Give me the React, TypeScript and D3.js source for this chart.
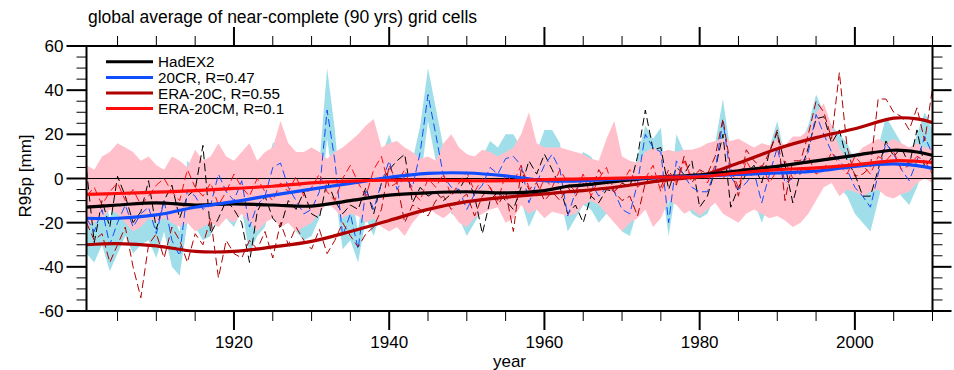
import React from 'react';
import * as d3 from 'd3';

const YEARS: number[] = d3.range(1901, 2011);

// HadEX2 yearly (dashed black)
const hadex2 = [
  4, -29, -10, -22, 1, -8, -20, -15, -1, -23,
  -10, -3, -18, -8, -5, 15, -25, -18, -10, -14,
  -20, -38, -15, -8, -18, -22, -10, -14, -6, -16,
  -18, -1, -10, -16, -12, -14, -4, -16, -2, 4,
  8, 11, -11, -4, -8, -6, -10, -7, -5, 1,
  -8, -25, -10, -6, -10, -14, -4, 8, 2, 11,
  4, -4, -16, -12, -20, -8, -11, -5, -6, -2,
  -4, 10, 31, 13, 14, -5, 5, 2, 8, -13,
  -8, 4, 20, -13, -4, 2, 6, -2, 12, 21,
  6, -11, 3, 14, 27, 28, 16, 22, 8, 2,
  -8, -8, 4, 17, 10, 14, 6, 22, 5, 10,
];

// 20CR yearly (dashed blue)
const cr20 = [
  -18, -24, -14, -30, -20, -12, -22, -16, -13, -25,
  -10, -28, -35, -5, -8, -14, -12, 2, -6, -10,
  -1, -22, -12, -8, 5, 7, -4, -10, -16, -14,
  -6, 31, 8, -26, -16, -32, -5, -14, -2, 8,
  -5, 1, -4, 12, 38, 20, 1, -4, -5, -14,
  -7, -3, 5, 2, 9, 10, 6, -11, -2, 6,
  11, 4, -17, -6, 0, -2, -8, -4, -6, -14,
  -16, -2, 20, 14, 12, -20, 8, 1, -4, -6,
  -6, 4, 26, 1, -5, -2, 3, -11, 2, 14,
  -2, 0, 6, 12, 29, 20, 12, 8, 4, -4,
  -8, -13, 2, 16, 11, 4, -1, 8, 19, 11,
];

// ERA-20C yearly (dashed dark red)
const era20c = [
  -20, -28, -25, -38, -30, -22, -40, -54, -30, -25,
  -36, -22, -28, -38, -25, -30, -18, -45, -28, -34,
  -36, -28, -32, -24, -36, -20, -30, -22, -28, -32,
  -23, -34, -28, -20, -26, -31, -25, -22, -14, 6,
  -2, -20, -12, -14, -17, -10, -8, -14, -10, -7,
  -17, -8, -4, -12, -6, -24, 4, -5, -2, -10,
  -6, -10, -4, -8, -2, -6, 4, -2, -6, -10,
  -8, -17, -2, 2, -4, 4, -3, 10, -2, 4,
  2, 10, 27, 5, -8, 13, 8, 5, 12, 22,
  -10, 8, 8, 20, 35, 30, 18, 48, 14, 1,
  2, 5, 36, 36, 30, 28, 22, 32, 17, 41,
];

// ERA-20CM ensemble mean yearly (dashed red)
const era20cm = [
  -8, -4, -12, -6, -2, -10, -5, -12, -8, -3,
  0, -6, -10, 4, -4, -8, -2, -12, -6, 2,
  -4, -8, 0, -6, -10, -2, -6, 1, -8, -4,
  2, -6, -10, 0, 6, -2, -8, 4, 10, -4,
  -2, 4, -6, -10, 0, -4, 2, -8, -2, 3,
  -6, 0, -4, -10, 2, -2, 6, -4, -8, 0,
  -4, 4, -2, -6, 2, -8, 0, 5, -6, -2,
  4, -4, 0, 6, -6, 2, -2, 8, 0, 4,
  -2, 6, 0, 4, -4, 8, 2, 6, -2, 4,
  8, 0, 6, 10, 2, 4, 12, 6, 2, 10,
  6, 2, 10, 8, 12, 4, 6, 10, 8, 2,
];

// 20CR ensemble spread (light blue band)
const cr20Lo = [
  -34, -38, -30, -42, -34, -26, -34, -30, -28, -36,
  -24, -40, -44, -20, -22, -28, -26, -10, -18, -22,
  -14, -34, -26, -22, -8, -6, -18, -24, -28, -26,
  -18, 18, -6, -32, -28, -38, -18, -26, -14, -4,
  -18, -12, -16, -2, 26, 8, -10, -16, -18, -26,
  -20, -14, -8, -10, -4, -2, -10, -22, -14, -2,
  -2, -8, -24, -18, -12, -14, -20, -16, -18, -24,
  -26, -14, 8, 2, 0, -26, -4, -10, -16, -18,
  -16, -8, 14, -10, -16, -14, -10, -20, -10, 2,
  -14, -18, -6, 0, 18, 8, 0, -4, -8, -16,
  -20, -24, -10, 4, -2, -8, -12, -4, 6, -2,
];
const cr20Hi = [
  -6, -12, -2, -18, -8, 0, -10, -4, -2, -14,
  2, -16, -24, 8, 4, -2, 0, 14, 6, 2,
  12, -10, 0, 4, 16, 18, 8, 2, -4, -2,
  6, 50, 22, -18, -4, -24, 6, -2, 10, 20,
  8, 12, 8, 24, 50, 32, 14, 8, 6, -2,
  4, 10, 17, 14, 20, 20, 14, 0, 12, 22,
  22, 16, -8, 6, 12, 10, 4, 8, 6, -2,
  -4, 10, 24, 18, 23, -12, 20, 12, 8, 6,
  6, 16, 36, 12, 6, 10, 14, 0, 14, 26,
  10, 8, 16, 24, 38, 30, 24, 20, 16, 8,
  4, -2, 14, 28, 22, 16, 10, 20, 30, 22,
];

// ERA-20CM ensemble spread (pink band)
const cmLo = [
  -22, -20, -18, -14, -16, -20, -24, -22, -18, -20,
  -18, -20, -22, -20, -24, -22, -20, -22, -18, -20,
  -16, -20, -24, -20, -18, -22, -20, -24, -22, -20,
  -16, -11, -14, -18, -16, -17, -20, -18, -22, -24,
  -22, -26, -20, -16, -13, -16, -18, -15, -20, -22,
  -18, -16, -14, -13, -20, -18, -12, -16, -14, -18,
  -15, -16, -17, -16, -12, -10, -12, -16, -20, -24,
  -20, -18, -14, -22, -18, -10, -12, -16, -14, -17,
  -14, -11, -16, -18, -20, -16, -14, -16, -18, -17,
  -19, -22, -20, -16, -10, -4, -2, -8, -5, -6,
  -8, -6, -5, -8, -9, -7, -6, -2, 0, -2,
];
const cmHi = [
  6, 4, 10, 12, 16, 14, 12, 8, 10, 6,
  4, 10, 8, 5, 13, 8, 10, 16, 10, 8,
  12, 16, 8, 12, 14, 26, 16, 12, 12, 14,
  12, 9, 12, 14, 17, 20, 24, 27, 14, 16,
  17, 14, 12, 9, 10, 8, 16, 20, 14, 11,
  10, 13, 12, 10, 12, 14, 20, 30, 16, 14,
  14, 14, 13, 12, 11, 9, 8, 18, 26, 10,
  8, 7, 12, 14, 12, 13, 12, 13, 13, 14,
  16, 17, 18, 17, 18, 16, 14, 16, 15, 18,
  15, 19, 19, 22, 30, 34, 24, 14, 8, 10,
  14, 16, 18, 16, 18, 16, 14, 16, 14, 14,
];

// smoothed curves (thick lines)
const smoothYears = [1901, 1905, 1910, 1915, 1920, 1925, 1930, 1935, 1940, 1945, 1950, 1955, 1960, 1963, 1965, 1970, 1975, 1980, 1985, 1990, 1995, 2000, 2005, 2008, 2010];
const hadex2Smooth = [-13, -12, -11, -12, -11.5, -12, -12.5, -10, -7.5, -6.5, -6, -6.5, -5.5, -3.5, -3, -1, 0.6, 1.6, 3.5, 5.5, 8, 10.5, 12.8, 12, 10.5];
const cr20Smooth = [-18, -18, -16.5, -13, -10.5, -7.5, -4.8, -2.2, 0.5, 2.3, 2.5, 1.2, -1, -1.2, -1, -0.2, 0.5, 1.1, 1.8, 2.5, 3.3, 5.5, 6.6, 5.8, 4.6];
const era20cSmooth = [-30, -29.5, -30.5, -33, -33, -31, -28.5, -24, -19, -14, -10.5, -8.5, -7, -6, -5.5, -3.5, -1, 1.2, 7, 13.5, 18.5, 22.5, 27.3, 27, 25.3];
const era20cmSmooth = [-7.2, -6.8, -6.2, -5.5, -4.5, -3.5, -2, -1.2, -0.8, -0.8, -1, -1, -0.5, -0.3, -0.2, 0.2, 0.6, 0.8, 2.5, 4, 4.8, 6.2, 8, 7.8, 7.2];

const xMajor = [1920, 1940, 1960, 1980, 2000];
const xMinor = d3.range(1905, 2011, 5).filter((v) => v % 20 !== 0);
const yMajor = [-60, -40, -20, 0, 20, 40, 60];
const yMinor = d3.range(-60, 61, 5).filter((v) => v % 20 !== 0);

const legendNames = ['HadEX2', '20CR, R=0.47', 'ERA-20C, R=0.55', 'ERA-20CM, R=0.1'];

const C_BLACK = '#000000';
const C_BLUE = '#0f4dff';
const C_DRED = '#b00000';
const C_RED = '#ff0c0c';
const C_LBLUE = '#a0dfea';
const C_PINK = '#ffc0cb';

export default function App() {
  const W = 954;
  const H = 370;
  const L = 86.5, R = 932.5, T = 46, B = 311;
  const x = d3.scaleLinear().domain([1901, 2010]).range([L, R]);
  const y = d3.scaleLinear().domain([-60, 60]).range([B, T]);

  const yearly = d3.line<number>().x((_, i) => x(YEARS[i])).y((d) => y(d));
  const smooth = d3.line<number>().x((_, i) => x(smoothYears[i])).y((d) => y(d)).curve(d3.curveCatmullRom.alpha(0.5));
  const band = (lo: number[], hi: number[]) =>
    d3.area<number>().x((_, i) => x(YEARS[i])).y0((_, i) => y(lo[i])).y1((d) => y(d))(hi) || '';

  const font = "'Liberation Sans', Arial, Helvetica, sans-serif";
  const majLen = 19, minLen = 10;
  const dash = '8,4';
  const legendColors = [C_BLACK, C_BLUE, C_DRED, C_RED];

  return (
    <svg width={W} height={H} style={{ position: 'absolute', left: 0, top: 0, background: '#fff' }} fontFamily={font}>
      <defs>
        <clipPath id="plotclip">
          <rect x={L} y={T} width={R - L} height={B - T} />
        </clipPath>
      </defs>
      <rect x={0} y={0} width={W} height={H} fill="#fff" />
      <g clipPath="url(#plotclip)">
        <path d={band(cr20Lo, cr20Hi)} fill={C_LBLUE} stroke="none" />
        <path d={band(cmLo, cmHi)} fill={C_PINK} stroke="none" />
        <line x1={L} x2={R} y1={y(0)} y2={y(0)} stroke="#000" strokeWidth={1.2} />
        <path d={yearly(hadex2) || ''} fill="none" stroke={C_BLACK} strokeWidth={1} strokeDasharray={dash} />
        <path d={yearly(cr20) || ''} fill="none" stroke={C_BLUE} strokeWidth={1} strokeDasharray={dash} />
        <path d={yearly(era20c) || ''} fill="none" stroke={C_DRED} strokeWidth={1} strokeDasharray={dash} />
        <path d={yearly(era20cm) || ''} fill="none" stroke={C_RED} strokeWidth={1} strokeDasharray={dash} />
        <path d={smooth(era20cSmooth) || ''} fill="none" stroke={C_DRED} strokeWidth={3.2} />
        <path d={smooth(hadex2Smooth) || ''} fill="none" stroke={C_BLACK} strokeWidth={3.2} />
        <path d={smooth(cr20Smooth) || ''} fill="none" stroke={C_BLUE} strokeWidth={3.2} />
        <path d={smooth(era20cmSmooth) || ''} fill="none" stroke={C_RED} strokeWidth={3.2} />
      </g>

      {/* frame */}
      <rect x={L} y={T} width={R - L} height={B - T} fill="none" stroke="#000" strokeWidth={2} />

      {/* x ticks bottom & top */}
      {xMajor.map((v) => (
        <g key={'xM' + v}>
          <line x1={x(v)} x2={x(v)} y1={B} y2={B + majLen} stroke="#000" strokeWidth={2} />
          <line x1={x(v)} x2={x(v)} y1={T} y2={T - majLen} stroke="#000" strokeWidth={2} />
          <text x={x(v)} y={348} textAnchor="middle" fontSize={17}>{v}</text>
        </g>
      ))}
      {xMinor.map((v) => (
        <g key={'xm' + v}>
          <line x1={x(v)} x2={x(v)} y1={B} y2={B + minLen} stroke="#000" strokeWidth={1} />
          <line x1={x(v)} x2={x(v)} y1={T} y2={T - minLen} stroke="#000" strokeWidth={1} />
        </g>
      ))}

      {/* y ticks left & right */}
      {yMajor.map((v) => (
        <g key={'yM' + v}>
          <line x1={L} x2={L - majLen - 1} y1={y(v)} y2={y(v)} stroke="#000" strokeWidth={2} />
          <line x1={R} x2={R + majLen} y1={y(v)} y2={y(v)} stroke="#000" strokeWidth={2} />
          <text x={63.5} y={y(v) + 6} textAnchor="end" fontSize={17}>{v}</text>
        </g>
      ))}
      {yMinor.map((v) => (
        <g key={'ym' + v}>
          <line x1={L} x2={L - minLen} y1={y(v)} y2={y(v)} stroke="#000" strokeWidth={1} />
          <line x1={R} x2={R + minLen} y1={y(v)} y2={y(v)} stroke="#000" strokeWidth={1} />
        </g>
      ))}

      {/* titles */}
      <text x={88} y={23} fontSize={17.5}>global average of near-complete (90 yrs) grid cells</text>
      <text x={509.5} y={367} textAnchor="middle" fontSize={17}>year</text>
      <text transform={`translate(31,176) rotate(-90)`} textAnchor="middle" fontSize={17}>R95p [mm]</text>

      {/* legend */}
      {legendNames.map((name, i) => {
        const ly = 61.8 + i * 15.6;
        return (
          <g key={name}>
            <line x1={106} x2={153} y1={ly} y2={ly} stroke={legendColors[i]} strokeWidth={3} />
            <text x={158} y={ly + 5.5} fontSize={15.2}>{name}</text>
          </g>
        );
      })}
    </svg>
  );
}
